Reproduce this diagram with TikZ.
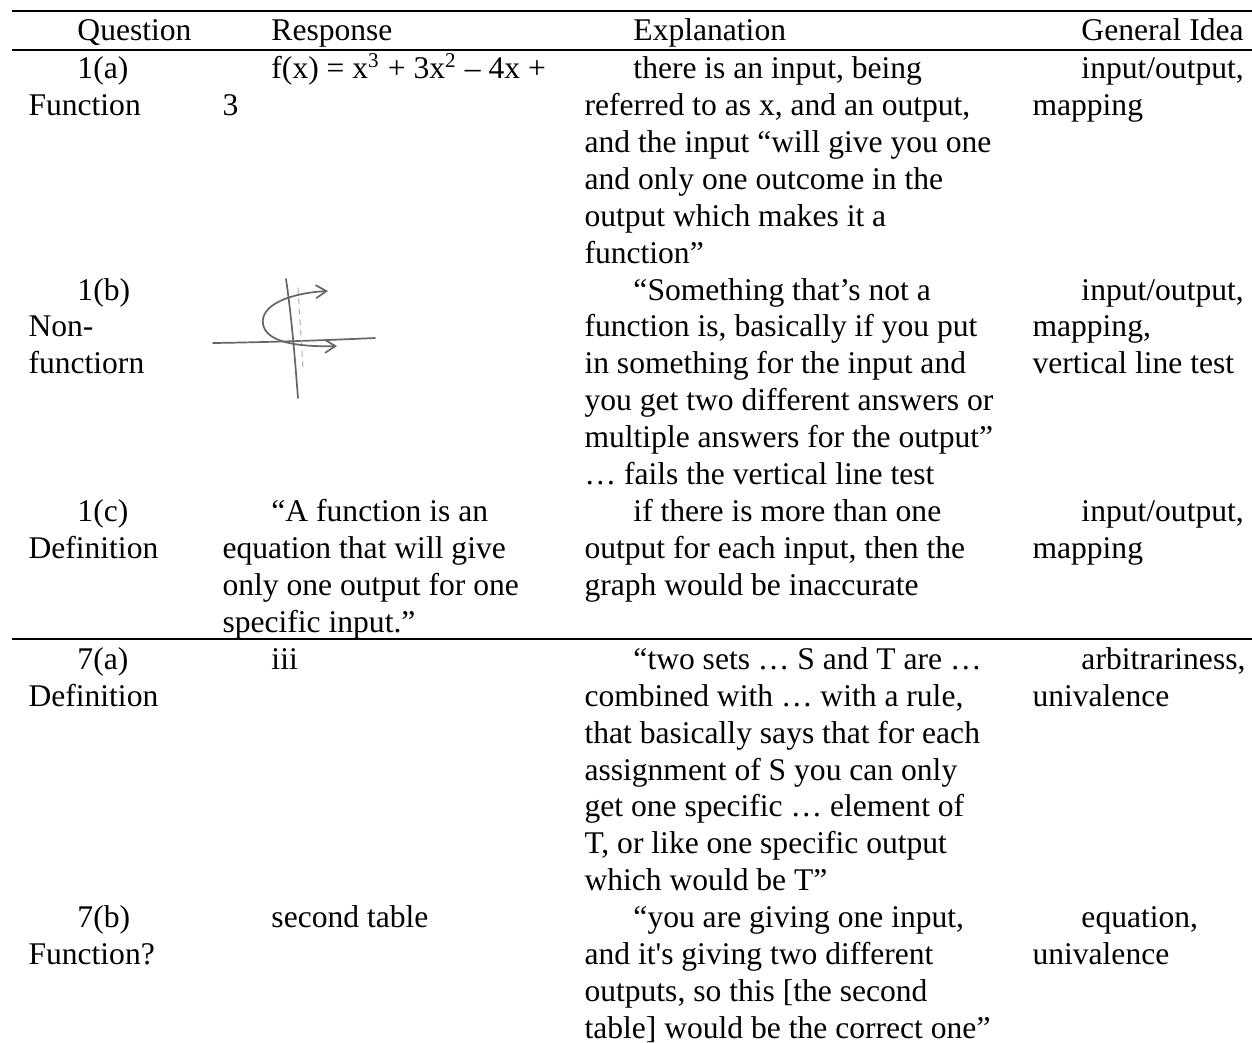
\documentclass[tikz,border=0pt]{standalone}
\usepackage{fontspec}
\setmainfont{Liberation Serif}
\usetikzlibrary{arrows.meta}
\begin{document}
\begin{tikzpicture}[x=0.38pt, y=-0.38pt]
% Table of responses, laid out on a pixel grid
\def\colQ{28}
\def\colR{222}
\def\colE{584}
\def\colG{1032}
\providecommand{\firstind}{\hspace*{18.6pt}}
\providecommand{\ruleColor}{black}
\providecommand{\ruleWidth}{1pt}
\providecommand{\sketchColor}{black!60}
\tikzset{
  cell/.style={anchor=north west, align=left, inner sep=0pt, font=\fontsize{12}{14.03}\selectfont},
  tablerule/.style={draw=\ruleColor, line width=\ruleWidth},
  pencil/.style={draw=\sketchColor, line width=0.65pt, line cap=round, line join=round},
}
\useasboundingbox (0,0) rectangle (1252,1042);
% Rules
\draw[tablerule] (12,11) -- (1252,11);
\draw[tablerule] (12,50) -- (1252,50);
\draw[tablerule] (12,639) -- (1252,639);
% Header
\node[cell] (hQ) at (\colQ,14.15) {\strut\firstind Question};
\node[cell] (hR) at (\colR,14.15) {\strut\firstind Response};
\node[cell] (hE) at (\colE,14.15) {\strut\firstind Explanation};
\node[cell] (hG) at (\colG,14.15) {\strut\firstind General Idea};
% Row 1(a)
\node[cell] (qA) at (\colQ,52.15) {\strut\firstind 1(a)\\Function};
\node[cell] (rA) at (\colR,52.15) {\strut\firstind f(x) = x\textsuperscript{3} + 3x\textsuperscript{2} – 4x +\\3};
\node[cell] (eA) at (\colE,52.15) {\strut\firstind there is an input, being\\referred to as x, and an output,\\and the input “will give you one\\and only one outcome in the\\output which makes it a\\function”};
\node[cell] (gA) at (\colG,52.15) {\strut\firstind input/output,\\mapping};
% Row 1(b)
\node[cell] (qB) at (\colQ,273.65) {\strut\firstind 1(b)\\Non-\\functiorn};
\node[cell] (eB) at (\colE,273.65) {\strut\firstind “Something that’s not a\\function is, basically if you put\\in something for the input and\\you get two different answers or\\multiple answers for the output”\\… fails the vertical line test};
\node[cell] (gB) at (\colG,273.65) {\strut\firstind input/output,\\mapping,\\vertical line test};
% Hand sketch in the response cell
\draw[pencil] (213,343) .. controls (280,342) and (330,340) .. (375,338);
\draw[pencil] (286,279) .. controls (292,320) and (295,360) .. (298,398);
\draw[pencil, draw=black!30, line width=0.4pt, dash pattern=on 2pt off 2pt] (298,288) -- (303,368);
\draw[pencil, {Straight Barb[length=4pt,width=5pt]}-{Straight Barb[length=4pt,width=5pt]}]
  (328,291) .. controls (290,293) and (260,305) .. (263,324)
  .. controls (266,343) and (300,347) .. (337,346);
% Row 1(c)
\node[cell] (qC) at (\colQ,495.15) {\strut\firstind 1(c)\\Definition};
\node[cell] (rC) at (\colR,495.15) {\strut\firstind “A function is an\\equation that will give\\only one output for one\\specific input.”};
\node[cell] (eC) at (\colE,495.15) {\strut\firstind if there is more than one\\output for each input, then the\\graph would be inaccurate};
\node[cell] (gC) at (\colG,495.15) {\strut\firstind input/output,\\mapping};
% Row 7(a)
\node[cell] (qD) at (\colQ,642.85) {\strut\firstind 7(a)\\Definition};
\node[cell] (rD) at (\colR,642.85) {\strut\firstind iii};
\node[cell] (eD) at (\colE,642.85) {\strut\firstind “two sets … S and T are …\\combined with … with a rule,\\that basically says that for each\\assignment of S you can only\\get one specific … element of\\T, or like one specific output\\which would be T”};
\node[cell] (gD) at (\colG,642.85) {\strut\firstind arbitrariness,\\univalence};
% Row 7(b)
\node[cell] (qE) at (\colQ,901.35) {\strut\firstind 7(b)\\Function?};
\node[cell] (rE) at (\colR,901.35) {\strut\firstind second table};
\node[cell] (eE) at (\colE,901.35) {\strut\firstind “you are giving one input,\\and it\textquotesingle s giving two different\\outputs, so this [the second\\table] would be the correct one”};
\node[cell] (gE) at (\colG,901.35) {\strut\firstind equation,\\univalence};
\end{tikzpicture}
\end{document}
